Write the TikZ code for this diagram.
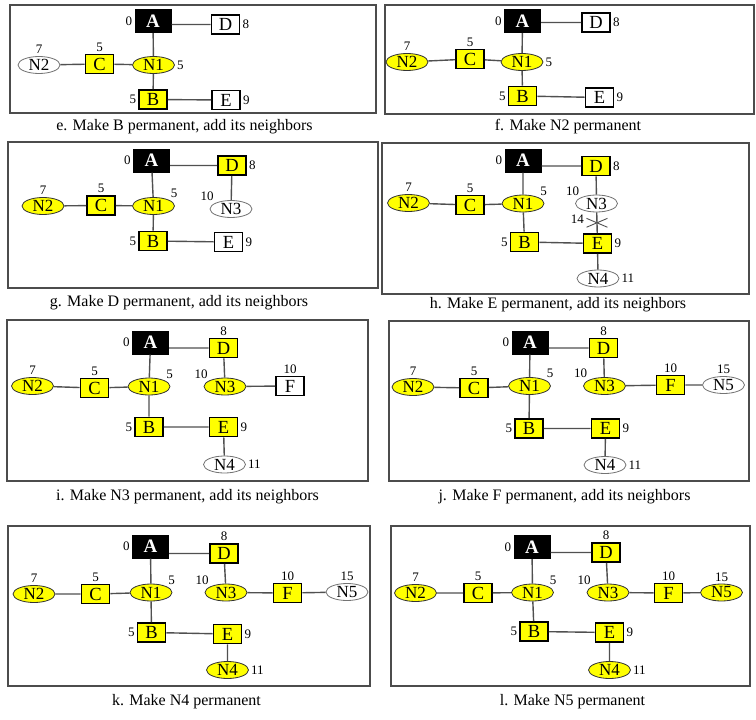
\documentclass[tikz,border=0pt]{standalone}
\usepackage{fontspec}
\setmainfont{Liberation Serif}
\usetikzlibrary{shapes.geometric,shapes.misc}
\definecolor{permYellow}{HTML}{FFFF00}
\definecolor{edgeGray}{HTML}{505050}
\newcommand{\nodefont}{\fontsize{17}{17}\selectfont}
\newcommand{\boxfont}{\fontsize{18.5}{18.5}\selectfont}

\tikzset{
  src/.style={fill=black, text=white, minimum width=37pt, minimum height=24pt, inner sep=0pt, font=\fontsize{19}{19}\selectfont\bfseries},
  permbox/.style={draw=black, line width=1.6pt, fill=permYellow, minimum width=28pt, minimum height=19pt, inner sep=0pt, font=\boxfont},
  tentbox/.style={permbox, fill=white},
  permell/.style={ellipse, draw=black!80, line width=0.8pt, fill=permYellow, minimum width=42pt, minimum height=17pt, inner sep=0pt, font=\nodefont},
  tentell/.style={permell, draw=black!55, fill=white},
  link/.style={draw=edgeGray, line width=1.4pt},
  panelbox/.style={draw=black!70, line width=1.6pt},
  captxt/.style={font=\fontsize{16}{16}\selectfont},
  every label/.style={font=\fontsize{13}{13}\selectfont, inner sep=1pt},
  label distance=1pt
}

\begin{document}
\begin{tikzpicture}[x=1pt, y=-1pt]
  \useasboundingbox (0,0) rectangle (756,720);
  % e: B made permanent
  \begin{scope}[shift={(10,5)}]
    \draw[panelbox] (0,0) rectangle (366,108);
    \node[src, label=left:0] (A) at (143,16) {A};
    \node[tentbox, label=right:8] (D) at (215.5,19.5) {D};
    \node[permell, label=right:5] (N1) at (143.5,60) {N1};
    \node[permbox, label=above:5] (C) at (89.5,59) {C};
    \node[tentell, label=above:7] (N2) at (29,60) {N2};
    \node[permbox, label=left:5] (B) at (143,94.5) {B};
    \node[tentbox, label=right:9] (E) at (216,95) {E};
    \draw[link] (D.west) -- (D.west -| A.east) (A) -- (N1) (N1) -- (C) (C) -- (N2) (N1) -- (B) (B) -- (E);
    \node[captxt] (capE) at (174.5,122) {e. Make B permanent, add its neighbors};
  \end{scope}
  % f: N2 made permanent
  \begin{scope}[shift={(385,5)}]
    \draw[panelbox] (0,0) rectangle (369,109);
    \node[src, label=left:0] (A) at (137.5,16) {A};
    \node[tentbox, label=right:8] (D) at (211,17.5) {D};
    \node[permell, label=right:5] (N1) at (137,57) {N1};
    \node[permbox, label=above:5] (C) at (85,54) {C};
    \node[permell, label=above:7] (N2) at (22,57) {N2};
    \node[permbox, label=left:5] (B) at (137.5,91) {B};
    \node[tentbox, label=right:9] (E) at (214.5,92.5) {E};
    \draw[link] (D.west) -- (D.west -| A.east) (A) -- (N1) (N1) -- (C) (C) -- (N2) (N1) -- (B) (B) -- (E);
    \node[captxt] (capF) at (183,122) {f. Make N2 permanent};
  \end{scope}
  % g: D made permanent
  \begin{scope}[shift={(8,142)}]
    \draw[panelbox] (0,0) rectangle (370,146);
    \node[src, label=left:0] (A) at (143.5,18.5) {A};
    \node[permbox, label=right:8] (D) at (224,23.5) {D};
    \node[permell, label=north east:5] (N1) at (145.5,64) {N1};
    \node[permbox, label=above:5] (C) at (93,63.5) {C};
    \node[permell, label=above:7] (N2) at (35,64) {N2};
    \node[tentell, label distance=-3pt, label=north west:10] (N3) at (223,67) {N3};
    \node[permbox, label=left:5] (B) at (145,99) {B};
    \node[tentbox, label=right:9] (E) at (220.5,100) {E};
    \draw[link] (D.west) -- (D.west -| A.east) (A) -- (N1) (N1) -- (C) (C) -- (N2) (N1) -- (B) (B) -- (E) (D) -- (N3);
    \node[captxt] (capG) at (171,161) {g. Make D permanent, add its neighbors};
  \end{scope}
  % h: E made permanent, path through N3 dropped
  \begin{scope}[shift={(382,143)}]
    \draw[panelbox] (0,0) rectangle (367,151);
    \node[src, label=left:0] (A) at (141,17.5) {A};
    \node[permbox, label=right:8] (D) at (214,23) {D};
    \node[permell, label=north east:5] (N1) at (141,60.5) {N1};
    \node[permbox, label=above:5] (C) at (88,62) {C};
    \node[permell, label=above:7] (N2) at (26.5,60) {N2};
    \node[tentell, label distance=-3pt, label=north west:10] (N3) at (214.5,60.5) {N3};
    \node[permbox, label=left:5] (B) at (142.5,99) {B};
    \node[permbox, label=right:9] (E) at (215.5,100.5) {E};
    \node[tentell, label=right:11] (N4) at (216,135.5) {N4};
    \draw[link] (D.west) -- (D.west -| A.east) (A) -- (N1) (N1) -- (C) (C) -- (N2) (N1) -- (B) (B) -- (E) (D) -- (N3) (E) -- (N4);
    \draw[link] (N3) -- (E) node[midway, cross out, draw=edgeGray, line width=0.9pt, minimum width=20pt, minimum height=8pt, inner sep=0pt, label={[yshift=4pt]left:14}] (X) {};
    \node[captxt] (capH) at (176,162) {h. Make E permanent, add its neighbors};
  \end{scope}
  % i: N3 made permanent
  \begin{scope}[shift={(7,320)}]
    \draw[panelbox] (0,0) rectangle (361,161);
    \node[src, label=left:0] (A) at (143.5,22.5) {A};
    \node[permbox, label=above:8] (D) at (216.5,28) {D};
    \node[permell, label=north east:5] (N1) at (142,66.5) {N1};
    \node[permbox, label=above:5] (C) at (87.5,68) {C};
    \node[permell, label=above:7] (N2) at (25.5,66) {N2};
    \node[permell, label distance=-3pt, label=north west:10] (N3) at (218,66.5) {N3};
    \node[tentbox, label=above:10] (F) at (283,66) {F};
    \node[permbox, label=left:5] (B) at (142,107) {B};
    \node[permbox, label=right:9] (E) at (216.5,107) {E};
    \node[tentell, label=right:11] (N4) at (217.5,144.5) {N4};
    \draw[link] (D.west) -- (D.west -| A.east) (A) -- (N1) (N1) -- (C) (C) -- (N2) (N1) -- (B) (B) -- (E) (D) -- (N3) (E) -- (N4) (N3) -- (F);
    \node[captxt] (capI) at (180.5,177) {i. Make N3 permanent, add its neighbors};
  \end{scope}
  % j: F made permanent
  \begin{scope}[shift={(389,321)}]
    \draw[panelbox] (0,0) rectangle (360,160);
    \node[src, label=left:0] (A) at (141,21.5) {A};
    \node[permbox, label=above:8] (D) at (214.5,27) {D};
    \node[permell, label=north east:5] (N1) at (140.5,65) {N1};
    \node[permbox, label=above:5] (C) at (85,67) {C};
    \node[permell, label=above:7] (N2) at (24,66) {N2};
    \node[permell, label distance=-3pt, label=north west:10] (N3) at (215.5,65) {N3};
    \node[permbox, label=above:10] (F) at (281.5,64) {F};
    \node[tentell, label=above:15] (N5) at (334.5,64) {N5};
    \node[permbox, label=left:5] (B) at (140,107.5) {B};
    \node[permbox, label=right:9] (E) at (216.5,107.5) {E};
    \node[tentell, label=right:11] (N4) at (216,144) {N4};
    \draw[link] (D.west) -- (D.west -| A.east) (A) -- (N1) (N1) -- (C) (C) -- (N2) (N1) -- (B) (B) -- (E) (D) -- (N3) (E) -- (N4) (N3) -- (F) (F) -- (N5);
    \node[captxt] (capJ) at (175.5,176) {j. Make F permanent, add its neighbors};
  \end{scope}
  % k: N4 made permanent
  \begin{scope}[shift={(8,526)}]
    \draw[panelbox] (0,0) rectangle (362,160);
    \node[src, label=left:0] (A) at (142.5,20.5) {A};
    \node[permbox, label=above:8] (D) at (216,27.5) {D};
    \node[permell, label=north east:5] (N1) at (143,66.5) {N1};
    \node[permbox, label=above:5] (C) at (87.5,68) {C};
    \node[permell, label=above:7] (N2) at (26,68) {N2};
    \node[permell, label distance=-3pt, label=north west:10] (N3) at (218,66.5) {N3};
    \node[permbox, label=above:10] (F) at (279.5,67) {F};
    \node[tentell, label=above:15] (N5) at (339,66) {N5};
    \node[permbox, label=left:5] (B) at (143.5,106.5) {B};
    \node[permbox, label=right:9] (E) at (219.5,108) {E};
    \node[permell, label=right:11] (N4) at (219.5,144) {N4};
    \draw[link] (D.west) -- (D.west -| A.east) (A) -- (N1) (N1) -- (C) (C) -- (N2) (N1) -- (B) (B) -- (E) (D) -- (N3) (E) -- (N4) (N3) -- (F) (F) -- (N5);
    \node[captxt] (capK) at (178.5,176) {k. Make N4 permanent};
  \end{scope}
  % l: N5 made permanent
  \begin{scope}[shift={(391,526)}]
    \draw[panelbox] (0,0) rectangle (359,160);
    \node[src, label=left:0] (A) at (141,21) {A};
    \node[permbox, label=above:8] (D) at (215,26.5) {D};
    \node[permell, label=north east:5] (N1) at (141.5,66.5) {N1};
    \node[permbox, label=above:5] (C) at (87,67) {C};
    \node[permell, label=above:7] (N2) at (24.5,67) {N2};
    \node[permell, label distance=-3pt, label=north west:10] (N3) at (217,66.5) {N3};
    \node[permbox, label=above:10] (F) at (277.5,67) {F};
    \node[permell, label=above:15] (N5) at (330.5,66.5) {N5};
    \node[permbox, label=left:5] (B) at (143,105.5) {B};
    \node[permbox, label=right:9] (E) at (218.5,106.5) {E};
    \node[permell, label=right:11] (N4) at (218.5,144) {N4};
    \draw[link] (D.west) -- (D.west -| A.east) (A) -- (N1) (N1) -- (C) (C) -- (N2) (N1) -- (B) (B) -- (E) (D) -- (N3) (E) -- (N4) (N3) -- (F) (F) -- (N5);
    \node[captxt] (capL) at (181.5,176) {l. Make N5 permanent};
  \end{scope}
\end{tikzpicture}
\end{document}
